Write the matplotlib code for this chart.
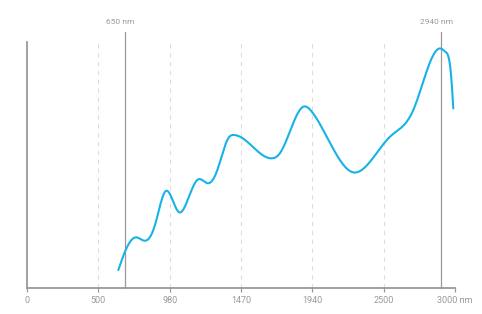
import numpy as np
import matplotlib
matplotlib.use("Agg")
import matplotlib.pyplot as plt

plt.rcParams['font.family'] = ['Roboto', 'DejaVu Sans']

# spectrum
wavelength = [640, 687, 764, 827, 897, 972, 1065, 1131, 1201, 1264, 1330, 1411,
              1453, 1493, 1633, 1715, 1773, 1937, 1996, 2101, 2287, 2404, 2544,
              2708, 2813, 2907, 2930, 2977, 2988]
intensity = [7.3, 14.8, 20.6, 19.2, 25.6, 39.4, 30.8, 36.5, 44.2, 42.6, 47.3, 60.9,
             62.2, 61.5, 54.8, 52.7, 54.8, 73.7, 71.7, 61.5, 47.0, 51.3, 61.5,
             72.4, 90.0, 97.2, 96.1, 83.2, 73.0]

tick_pos = [0, 500, 1000, 1500, 2000, 2500, 3000]
tick_labels = ['0', '500', '980', '1470', '1940', '2500', '3000 nm']

mark_pos = [687, 2902]
mark_labels = ['650 nm', '2940 nm']


def spline(x, y, n=600):
    # natural cubic spline, x increasing
    x = np.asarray(x, float)
    y = np.asarray(y, float)
    h = np.diff(x)
    m = len(x)
    A = np.zeros((m, m))
    b = np.zeros(m)
    A[0, 0] = A[-1, -1] = 1
    for i in range(1, m - 1):
        A[i, i - 1] = h[i - 1]
        A[i, i] = 2 * (h[i - 1] + h[i])
        A[i, i + 1] = h[i]
        b[i] = 6 * ((y[i + 1] - y[i]) / h[i] - (y[i] - y[i - 1]) / h[i - 1])
    M = np.linalg.solve(A, b)
    xs = np.linspace(x[0], x[-1], n)
    k = np.clip(np.searchsorted(x, xs) - 1, 0, m - 2)
    a = x[k + 1] - xs
    c = xs - x[k]
    ys = (M[k] * a ** 3 + M[k + 1] * c ** 3) / (6 * h[k]) \
        + (y[k] / h[k] - M[k] * h[k] / 6) * a \
        + (y[k + 1] / h[k] - M[k + 1] * h[k] / 6) * c
    return xs, ys


fig = plt.figure(figsize=(4.82, 3.14), dpi=100)
ax = fig.add_axes([27 / 482, 26 / 314, 428 / 482, 246 / 314])

grey = '#999999'
for p in tick_pos[1:]:
    ax.axvline(p, color='#dddddd', lw=0.8, ls=(0, (4, 4)), zorder=0)

for p, lab in zip(mark_pos, mark_labels):
    ax.plot([p, p], [0, 104], color=grey, lw=0.9, clip_on=False, zorder=1)
    ax.text(p - 30, 107, lab, ha='center', va='bottom', fontsize=6, color=grey)

sx, sy = spline(wavelength, intensity)
ax.plot(sx, sy, color='#17b3e6', lw=1.5, zorder=3, solid_capstyle='round')

ax.set_xlim(0, 3000)
ax.set_ylim(0, 100)
ax.set_xticks(tick_pos)
ax.set_xticklabels(tick_labels)
ax.set_yticks([])
for s in ['top', 'right']:
    ax.spines[s].set_visible(False)
for s in ['left', 'bottom']:
    ax.spines[s].set_color(grey)
    ax.spines[s].set_linewidth(1.3)
ax.tick_params(axis='x', colors=grey, labelsize=6.5, length=3, width=0.9, pad=3)

fig.savefig('out.png', dpi=100)
